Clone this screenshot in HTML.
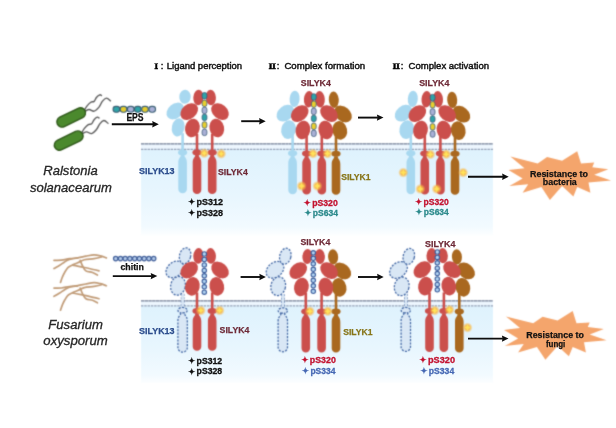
<!DOCTYPE html>
<html lang="en">
<head>
<meta charset="utf-8">
<title>SlLYK4 signalling model</title>
<style>
html,body{margin:0;padding:0;background:#fff;}
body{width:616px;height:428px;overflow:hidden;}
svg{display:block;font-family:"Liberation Sans","Noto Sans CJK SC",sans-serif;}
</style>
</head>
<body>
<svg width="616" height="428" viewBox="0 0 616 428">
<defs>
<linearGradient id="cyto" x1="0" y1="0" x2="0" y2="1">
<stop offset="0" stop-color="#def2fd"/>
<stop offset="0.55" stop-color="#e8f6fe"/>
<stop offset="0.9" stop-color="#f2faff"/>
<stop offset="1" stop-color="#fcfeff"/>
</linearGradient>
<radialGradient id="glow">
<stop offset="0" stop-color="#ffd650" stop-opacity="1"/>
<stop offset="0.5" stop-color="#f8b748" stop-opacity="0.9"/>
<stop offset="1" stop-color="#f8b748" stop-opacity="0"/>
</radialGradient>
<filter id="soft" x="0" y="0" width="616" height="428" filterUnits="userSpaceOnUse" color-interpolation-filters="sRGB"><feConvolveMatrix order="3" kernelMatrix="1 4 1 4 16 4 1 4 1" divisor="36" edgeMode="duplicate" preserveAlpha="false"/></filter>
<filter id="crisp" x="0" y="0" width="616" height="428" filterUnits="userSpaceOnUse"><feOffset dx="0" dy="0"/></filter>
</defs>
<rect width="616" height="428" fill="#fff"/>
<g filter="url(#soft)">

<rect x="141" y="143.4" width="352" height="6" fill="#edf6fe"/>
<rect x="141" y="148.8" width="352" height="86.5" fill="url(#cyto)"/>
<path d="M141 143.85H493" stroke="#747f95" stroke-width="1.3" stroke-dasharray="3.4 0.3" fill="none"/>
<path d="M141 149.30H493" stroke="#98a2b7" stroke-width="1.3" stroke-dasharray="2.4 0.9" fill="none"/>
<rect x="141" y="300.6" width="352" height="6" fill="#edf6fe"/>
<rect x="141" y="305.4" width="352" height="77.5" fill="url(#cyto)"/>
<path d="M141 300.95H493" stroke="#747f95" stroke-width="1.3" stroke-dasharray="3.4 0.3" fill="none"/>
<path d="M141 305.90H493" stroke="#98a2b7" stroke-width="1.3" stroke-dasharray="2.4 0.9" fill="none"/>
<rect x="181.3" y="133.2" width="2.6" height="20" fill="#a8d8f0"/>
<ellipse cx="178.2" cy="127.4" rx="6.3" ry="9.2" transform="rotate(12 178.2 127.4)" fill="#a8d8f0" />
<ellipse cx="175.3" cy="111.0" rx="9.8" ry="7.2" transform="rotate(-40 175.3 111.0)" fill="#a8d8f0" />
<ellipse cx="185.0" cy="96.8" rx="5.7" ry="7.0" transform="rotate(4 185.0 96.8)" fill="#a8d8f0" />
<ellipse cx="182.6" cy="152.4" rx="4.6" ry="3.0" transform="rotate(0 182.6 152.4)" fill="#a8d8f0" />
<path d="M180.8 154.8C180.8 158.0 178.3 157.8 178.3 162.8V188.9A4.3 4.3 0 0 0 186.9 188.9V162.8C186.9 157.8 184.4 158.0 184.4 154.8Z" fill="#a8d8f0" />
<rect x="195.7" y="134.0" width="2.6" height="20" fill="#cb4f4c"/>
<ellipse cx="192.4" cy="128.0" rx="7.3" ry="9.4" transform="rotate(12 192.4 128.0)" fill="#cb4f4c" />
<ellipse cx="189.2" cy="111.6" rx="9.8" ry="7.2" transform="rotate(-40 189.2 111.6)" fill="#cb4f4c" />
<ellipse cx="198.4" cy="97.5" rx="5.1" ry="7.8" transform="rotate(4 198.4 97.5)" fill="#cb4f4c" />
<ellipse cx="197.0" cy="152.4" rx="4.6" ry="3.0" transform="rotate(0 197.0 152.4)" fill="#cb4f4c" />
<path d="M195.2 154.8C195.2 158.0 192.7 157.8 192.7 162.8V189.7A4.3 4.3 0 0 0 201.3 189.7V162.8C201.3 157.8 198.8 158.0 198.8 154.8Z" fill="#cb4f4c" />
<rect x="210.9" y="134.0" width="2.6" height="20" fill="#cb4f4c"/>
<ellipse cx="216.8" cy="128.0" rx="7.3" ry="9.4" transform="rotate(-12 216.8 128.0)" fill="#cb4f4c" />
<ellipse cx="220.0" cy="111.6" rx="9.8" ry="7.2" transform="rotate(40 220.0 111.6)" fill="#cb4f4c" />
<ellipse cx="210.8" cy="97.5" rx="5.1" ry="7.8" transform="rotate(-4 210.8 97.5)" fill="#cb4f4c" />
<ellipse cx="212.2" cy="152.4" rx="4.6" ry="3.0" transform="rotate(0 212.2 152.4)" fill="#cb4f4c" />
<path d="M210.4 154.8C210.4 158.0 207.9 157.8 207.9 162.8V189.7A4.3 4.3 0 0 0 216.5 189.7V162.8C216.5 157.8 214.0 158.0 214.0 154.8Z" fill="#cb4f4c" />
<rect x="202.1" y="92.6" width="4.8" height="6.4" rx="2.1" fill="#2fa3a8" stroke="#3d5a78" stroke-width="0.8"/>
<rect x="202.1" y="100.1" width="4.8" height="6.4" rx="2.1" fill="#e8cf2e" stroke="#3d5a78" stroke-width="0.8"/>
<rect x="202.1" y="107.2" width="4.8" height="6.4" rx="2.1" fill="#a9b0d6" stroke="#3d5a78" stroke-width="0.8"/>
<rect x="202.1" y="114.2" width="4.8" height="6.4" rx="2.1" fill="#2fa3a8" stroke="#3d5a78" stroke-width="0.8"/>
<rect x="202.1" y="121.8" width="4.8" height="6.4" rx="2.1" fill="#e8cf2e" stroke="#3d5a78" stroke-width="0.8"/>
<rect x="202.1" y="129.2" width="4.8" height="6.4" rx="2.1" fill="#a9b0d6" stroke="#3d5a78" stroke-width="0.8"/>
<circle cx="204.2" cy="153.2" r="5.2" fill="url(#glow)"/><polygon points="204.2,150.2 205.1,152.3 207.2,153.2 205.1,154.1 204.2,156.2 203.3,154.1 201.2,153.2 203.3,152.3" fill="#ffe35a"/>
<circle cx="221.2" cy="153.8" r="5.2" fill="url(#glow)"/><polygon points="221.2,150.8 222.1,152.9 224.2,153.8 222.1,154.7 221.2,156.8 220.3,154.7 218.2,153.8 220.3,152.9" fill="#ffe35a"/>
<rect x="291.3" y="134.6" width="2.6" height="20" fill="#a8d8f0"/>
<ellipse cx="288.6" cy="129.6" rx="7.3" ry="9.4" transform="rotate(12 288.6 129.6)" fill="#a8d8f0" />
<ellipse cx="285.4" cy="113.2" rx="9.8" ry="7.2" transform="rotate(-40 285.4 113.2)" fill="#a8d8f0" />
<ellipse cx="294.6" cy="98.9" rx="5.0" ry="8.2" transform="rotate(4 294.6 98.9)" fill="#a8d8f0" />
<ellipse cx="292.6" cy="153.2" rx="4.6" ry="3.0" transform="rotate(0 292.6 153.2)" fill="#a8d8f0" />
<path d="M290.8 155.6C290.8 158.8 288.3 158.6 288.3 163.6V189.9A4.3 4.3 0 0 0 296.9 189.9V163.6C296.9 158.6 294.4 158.8 294.4 155.6Z" fill="#a8d8f0" />
<rect x="334.7" y="135.2" width="2.6" height="20" fill="#a9681f"/>
<ellipse cx="339.8" cy="130.4" rx="7.3" ry="9.4" transform="rotate(-12 339.8 130.4)" fill="#a9681f" />
<ellipse cx="343.0" cy="114.0" rx="9.8" ry="7.2" transform="rotate(40 343.0 114.0)" fill="#a9681f" />
<ellipse cx="333.8" cy="99.7" rx="5.0" ry="8.2" transform="rotate(-4 333.8 99.7)" fill="#a9681f" />
<ellipse cx="336.0" cy="153.8" rx="4.6" ry="3.0" transform="rotate(0 336.0 153.8)" fill="#a9681f" />
<path d="M334.2 156.2C334.2 159.4 331.7 159.2 331.7 164.2V190.5A4.3 4.3 0 0 0 340.3 190.5V164.2C340.3 159.2 337.8 159.4 337.8 156.2Z" fill="#a9681f" />
<rect x="305.3" y="135.0" width="2.6" height="20" fill="#cb4f4c"/>
<ellipse cx="302.9" cy="130.0" rx="7.3" ry="9.4" transform="rotate(12 302.9 130.0)" fill="#cb4f4c" />
<ellipse cx="299.7" cy="113.6" rx="9.8" ry="7.2" transform="rotate(-40 299.7 113.6)" fill="#cb4f4c" />
<ellipse cx="308.9" cy="99.3" rx="5.0" ry="8.2" transform="rotate(4 308.9 99.3)" fill="#cb4f4c" />
<ellipse cx="306.6" cy="153.6" rx="4.6" ry="3.0" transform="rotate(0 306.6 153.6)" fill="#cb4f4c" />
<path d="M304.8 156.0C304.8 159.2 302.3 159.0 302.3 164.0V190.3A4.3 4.3 0 0 0 310.9 190.3V164.0C310.9 159.0 308.4 159.2 308.4 156.0Z" fill="#cb4f4c" />
<rect x="320.5" y="135.0" width="2.6" height="20" fill="#cb4f4c"/>
<ellipse cx="325.8" cy="130.0" rx="7.3" ry="9.4" transform="rotate(-12 325.8 130.0)" fill="#cb4f4c" />
<ellipse cx="329.0" cy="113.6" rx="9.8" ry="7.2" transform="rotate(40 329.0 113.6)" fill="#cb4f4c" />
<ellipse cx="319.8" cy="99.3" rx="5.0" ry="8.2" transform="rotate(-4 319.8 99.3)" fill="#cb4f4c" />
<ellipse cx="321.8" cy="153.6" rx="4.6" ry="3.0" transform="rotate(0 321.8 153.6)" fill="#cb4f4c" />
<path d="M320.0 156.0C320.0 159.2 317.5 159.0 317.5 164.0V190.3A4.3 4.3 0 0 0 326.1 190.3V164.0C326.1 159.0 323.6 159.2 323.6 156.0Z" fill="#cb4f4c" />
<rect x="311.4" y="93.8" width="4.8" height="6.4" rx="2.1" fill="#2fa3a8" stroke="#3d5a78" stroke-width="0.8"/>
<rect x="311.4" y="101.0" width="4.8" height="6.4" rx="2.1" fill="#e8cf2e" stroke="#3d5a78" stroke-width="0.8"/>
<rect x="311.4" y="108.2" width="4.8" height="6.4" rx="2.1" fill="#a9b0d6" stroke="#3d5a78" stroke-width="0.8"/>
<rect x="311.4" y="115.3" width="4.8" height="6.4" rx="2.1" fill="#2fa3a8" stroke="#3d5a78" stroke-width="0.8"/>
<rect x="311.4" y="123.1" width="4.8" height="6.4" rx="2.1" fill="#e8cf2e" stroke="#3d5a78" stroke-width="0.8"/>
<rect x="311.4" y="130.1" width="4.8" height="6.4" rx="2.1" fill="#a9b0d6" stroke="#3d5a78" stroke-width="0.8"/>
<circle cx="313.0" cy="153.6" r="5.2" fill="url(#glow)"/><polygon points="313.0,150.2 314.0,152.6 316.4,153.6 314.0,154.6 313.0,157.0 312.0,154.6 309.6,153.6 312.0,152.6" fill="#ffe35a"/>
<circle cx="327.5" cy="153.6" r="5.2" fill="url(#glow)"/><polygon points="327.5,150.2 328.5,152.6 330.9,153.6 328.5,154.6 327.5,157.0 326.5,154.6 324.1,153.6 326.5,152.6" fill="#ffe35a"/>
<circle cx="301.6" cy="186.0" r="5.2" fill="url(#glow)"/><polygon points="301.6,182.6 302.6,185.0 305.0,186.0 302.6,187.0 301.6,189.4 300.6,187.0 298.2,186.0 300.6,185.0" fill="#ffe35a"/>
<circle cx="317.3" cy="186.0" r="5.2" fill="url(#glow)"/><polygon points="317.3,182.6 318.3,185.0 320.7,186.0 318.3,187.0 317.3,189.4 316.3,187.0 313.9,186.0 316.3,185.0" fill="#ffe35a"/>
<rect x="409.5" y="134.6" width="2.6" height="20" fill="#a8d8f0"/>
<ellipse cx="406.8" cy="129.6" rx="7.3" ry="9.4" transform="rotate(12 406.8 129.6)" fill="#a8d8f0" />
<ellipse cx="403.6" cy="113.2" rx="9.8" ry="7.2" transform="rotate(-40 403.6 113.2)" fill="#a8d8f0" />
<ellipse cx="412.8" cy="98.9" rx="5.0" ry="8.2" transform="rotate(4 412.8 98.9)" fill="#a8d8f0" />
<ellipse cx="410.8" cy="153.2" rx="4.6" ry="3.0" transform="rotate(0 410.8 153.2)" fill="#a8d8f0" />
<path d="M409.0 155.6C409.0 158.8 406.5 158.6 406.5 163.6V189.9A4.3 4.3 0 0 0 415.1 189.9V163.6C415.1 158.6 412.6 158.8 412.6 155.6Z" fill="#a8d8f0" />
<rect x="453.7" y="135.2" width="2.6" height="20" fill="#a9681f"/>
<ellipse cx="458.2" cy="130.6" rx="7.3" ry="9.4" transform="rotate(-12 458.2 130.6)" fill="#a9681f" />
<ellipse cx="461.4" cy="114.2" rx="9.8" ry="7.2" transform="rotate(40 461.4 114.2)" fill="#a9681f" />
<ellipse cx="452.2" cy="99.9" rx="5.0" ry="8.2" transform="rotate(-4 452.2 99.9)" fill="#a9681f" />
<ellipse cx="455.0" cy="153.8" rx="4.6" ry="3.0" transform="rotate(0 455.0 153.8)" fill="#a9681f" />
<path d="M453.2 156.2C453.2 159.4 450.7 159.2 450.7 164.2V190.5A4.3 4.3 0 0 0 459.3 190.5V164.2C459.3 159.2 456.8 159.4 456.8 156.2Z" fill="#a9681f" />
<rect x="423.5" y="135.0" width="2.6" height="20" fill="#cb4f4c"/>
<ellipse cx="420.5" cy="130.0" rx="7.3" ry="9.4" transform="rotate(12 420.5 130.0)" fill="#cb4f4c" />
<ellipse cx="417.3" cy="113.6" rx="9.8" ry="7.2" transform="rotate(-40 417.3 113.6)" fill="#cb4f4c" />
<ellipse cx="426.5" cy="99.3" rx="5.0" ry="8.2" transform="rotate(4 426.5 99.3)" fill="#cb4f4c" />
<ellipse cx="424.8" cy="153.6" rx="4.6" ry="3.0" transform="rotate(0 424.8 153.6)" fill="#cb4f4c" />
<path d="M423.0 156.0C423.0 159.2 420.5 159.0 420.5 164.0V190.3A4.3 4.3 0 0 0 429.1 190.3V164.0C429.1 159.0 426.6 159.2 426.6 156.0Z" fill="#cb4f4c" />
<rect x="439.1" y="135.0" width="2.6" height="20" fill="#cb4f4c"/>
<ellipse cx="444.0" cy="130.0" rx="7.3" ry="9.4" transform="rotate(-12 444.0 130.0)" fill="#cb4f4c" />
<ellipse cx="447.2" cy="113.6" rx="9.8" ry="7.2" transform="rotate(40 447.2 113.6)" fill="#cb4f4c" />
<ellipse cx="438.0" cy="99.3" rx="5.0" ry="8.2" transform="rotate(-4 438.0 99.3)" fill="#cb4f4c" />
<ellipse cx="440.4" cy="153.6" rx="4.6" ry="3.0" transform="rotate(0 440.4 153.6)" fill="#cb4f4c" />
<path d="M438.6 156.0C438.6 159.2 436.1 159.0 436.1 164.0V190.3A4.3 4.3 0 0 0 444.7 190.3V164.0C444.7 159.0 442.2 159.2 442.2 156.0Z" fill="#cb4f4c" />
<rect x="430.2" y="94.4" width="4.8" height="6.4" rx="2.1" fill="#2fa3a8" stroke="#3d5a78" stroke-width="0.8"/>
<rect x="430.2" y="101.6" width="4.8" height="6.4" rx="2.1" fill="#e8cf2e" stroke="#3d5a78" stroke-width="0.8"/>
<rect x="430.2" y="108.8" width="4.8" height="6.4" rx="2.1" fill="#a9b0d6" stroke="#3d5a78" stroke-width="0.8"/>
<rect x="430.2" y="115.9" width="4.8" height="6.4" rx="2.1" fill="#2fa3a8" stroke="#3d5a78" stroke-width="0.8"/>
<rect x="430.2" y="123.7" width="4.8" height="6.4" rx="2.1" fill="#e8cf2e" stroke="#3d5a78" stroke-width="0.8"/>
<rect x="430.2" y="130.8" width="4.8" height="6.4" rx="2.1" fill="#a9b0d6" stroke="#3d5a78" stroke-width="0.8"/>
<circle cx="430.4" cy="154.4" r="5.2" fill="url(#glow)"/><polygon points="430.4,151.0 431.4,153.4 433.8,154.4 431.4,155.4 430.4,157.8 429.4,155.4 427.0,154.4 429.4,153.4" fill="#ffe35a"/>
<circle cx="446.2" cy="154.2" r="5.2" fill="url(#glow)"/><polygon points="446.2,150.8 447.2,153.2 449.6,154.2 447.2,155.2 446.2,157.6 445.2,155.2 442.8,154.2 445.2,153.2" fill="#ffe35a"/>
<circle cx="403.3" cy="172.6" r="5.2" fill="url(#glow)"/><polygon points="403.3,169.2 404.3,171.6 406.7,172.6 404.3,173.6 403.3,176.0 402.3,173.6 399.9,172.6 402.3,171.6" fill="#ffe35a"/>
<circle cx="463.2" cy="172.6" r="5.2" fill="url(#glow)"/><polygon points="463.2,169.2 464.2,171.6 466.6,172.6 464.2,173.6 463.2,176.0 462.2,173.6 459.8,172.6 462.2,171.6" fill="#ffe35a"/>
<circle cx="420.3" cy="189.0" r="5.2" fill="url(#glow)"/><polygon points="420.3,185.6 421.3,188.0 423.7,189.0 421.3,190.0 420.3,192.4 419.3,190.0 416.9,189.0 419.3,188.0" fill="#ffe35a"/>
<circle cx="436.7" cy="189.0" r="5.2" fill="url(#glow)"/><polygon points="436.7,185.6 437.7,188.0 440.1,189.0 437.7,190.0 436.7,192.4 435.7,190.0 433.3,189.0 435.7,188.0" fill="#ffe35a"/>
<rect x="113.1" y="106.4" width="6.6" height="5.8" rx="2.6" fill="#2fa3a8" stroke="#3c6074" stroke-width="1.1"/>
<rect x="120.2" y="106.4" width="6.6" height="5.8" rx="2.6" fill="#e3cb2c" stroke="#3c6074" stroke-width="1.1"/>
<rect x="127.4" y="106.4" width="6.6" height="5.8" rx="2.6" fill="#a9b0d6" stroke="#3c6074" stroke-width="1.1"/>
<rect x="134.5" y="106.4" width="6.6" height="5.8" rx="2.6" fill="#2fa3a8" stroke="#3c6074" stroke-width="1.1"/>
<rect x="141.7" y="106.4" width="6.6" height="5.8" rx="2.6" fill="#e3cb2c" stroke="#3c6074" stroke-width="1.1"/>
<rect x="148.9" y="106.4" width="6.6" height="5.8" rx="2.6" fill="#a9b0d6" stroke="#3c6074" stroke-width="1.1"/>
<g><path d="M84.3 110.4C84.7 109.7 85.6 107.7 86.7 106.3C87.8 104.9 89.6 103.0 90.8 102.2C92.0 101.4 93.1 102.2 94.1 101.4C95.1 100.6 95.6 98.4 96.6 97.3C97.5 96.2 99.0 95.1 99.8 94.8C100.6 94.5 101.2 95.5 101.5 95.6" fill="none" stroke="#5a5a5a" stroke-width="1.35" stroke-linecap="round"/><path d="M85.1 111.2C85.8 110.9 87.7 109.5 89.2 109.5C90.7 109.5 92.5 111.6 94.1 111.2C95.7 110.8 97.6 108.7 99.0 107.1C100.4 105.5 101.1 102.9 102.3 101.4C103.5 99.9 105.0 98.2 106.4 98.1C107.8 98.0 109.8 100.4 110.5 100.9" fill="none" stroke="#5a5a5a" stroke-width="1.35" stroke-linecap="round"/><rect x="55.8" y="112.2" width="30.8" height="10.4" rx="5.2" transform="rotate(-26 71.2 117.4)" fill="#4b892d" stroke="#30591b" stroke-width="1.4"/></g>
<g><path d="M81.8 132.8C82.2 132.1 83.1 130.1 84.2 128.7C85.3 127.3 87.1 125.4 88.3 124.6C89.5 123.8 90.6 124.6 91.6 123.8C92.6 123.0 93.1 120.8 94.1 119.7C95.0 118.6 96.5 117.5 97.3 117.2C98.1 116.9 98.7 117.9 99.0 118.0" fill="none" stroke="#5a5a5a" stroke-width="1.35" stroke-linecap="round"/><path d="M82.6 133.6C83.3 133.3 85.2 131.9 86.7 131.9C88.2 131.9 90.0 134.0 91.6 133.6C93.2 133.2 95.1 131.1 96.5 129.5C97.9 127.9 98.6 125.3 99.8 123.8C101.0 122.3 102.5 120.6 103.9 120.5C105.3 120.4 107.3 122.8 108.0 123.3" fill="none" stroke="#5a5a5a" stroke-width="1.35" stroke-linecap="round"/><rect x="53.3" y="135.4" width="30.8" height="10.4" rx="5.2" transform="rotate(-26 68.7 140.6)" fill="#4b892d" stroke="#30591b" stroke-width="1.4"/></g>
<polygon points="510.4,156.6 537.7,163.5 547.1,156.9 562.1,160.7 577.2,151.3 581.0,163.5 594.2,162.6 592.3,167.3 608.3,169.2 594.2,174.8 611.1,180.5 588.5,182.4 590.4,192.7 577.2,187.1 573.4,196.5 562.1,186.1 549.9,199.9 541.4,187.1 522.6,192.7 528.2,184.3 509.4,186.1 522.6,178.6 508.5,170.1 524.5,168.2" fill="#f4a56c"/>
<path d="M181.3 293.8V308.8M183.9 293.8V308.8" fill="none" stroke="#4468a4" stroke-width="1.0" stroke-dasharray="2.1 1.3"/>
<rect x="181.3" y="293.8" width="2.6" height="15" fill="#d9e7f5"/>
<ellipse cx="178.0" cy="285.8" rx="7.3" ry="9.4" transform="rotate(12 178.0 285.8)" fill="#d9e7f5" stroke="#4468a4" stroke-width="1.25" stroke-dasharray="2.1 1.3"/>
<ellipse cx="174.8" cy="269.4" rx="9.8" ry="7.2" transform="rotate(-40 174.8 269.4)" fill="#d9e7f5" stroke="#4468a4" stroke-width="1.25" stroke-dasharray="2.1 1.3"/>
<ellipse cx="185.1" cy="255.8" rx="5.6" ry="8.1" transform="rotate(14 185.1 255.8)" fill="#d9e7f5" stroke="#4468a4" stroke-width="1.25" stroke-dasharray="2.1 1.3"/>
<ellipse cx="182.6" cy="310.4" rx="4.6" ry="3.0" transform="rotate(0 182.6 310.4)" fill="#d9e7f5" stroke="#4468a4" stroke-width="1.25" stroke-dasharray="2.1 1.3"/>
<path d="M180.8 312.8C180.8 316.0 177.9 315.8 177.9 320.8V347.5A4.7 4.7 0 0 0 187.3 347.5V320.8C187.3 315.8 184.4 316.0 184.4 312.8Z" fill="#d9e7f5" stroke="#4468a4" stroke-width="1.25" stroke-dasharray="2.1 1.3"/>
<rect x="195.7" y="292.4" width="2.6" height="20" fill="#cb4f4c"/>
<ellipse cx="192.4" cy="286.4" rx="7.3" ry="9.4" transform="rotate(12 192.4 286.4)" fill="#cb4f4c" />
<ellipse cx="189.2" cy="270.0" rx="9.8" ry="7.2" transform="rotate(-40 189.2 270.0)" fill="#cb4f4c" />
<ellipse cx="198.4" cy="255.9" rx="5.1" ry="7.8" transform="rotate(4 198.4 255.9)" fill="#cb4f4c" />
<ellipse cx="197.0" cy="311.0" rx="4.6" ry="3.0" transform="rotate(0 197.0 311.0)" fill="#cb4f4c" />
<path d="M195.2 313.4C195.2 316.6 192.7 316.4 192.7 321.4V346.5A4.3 4.3 0 0 0 201.3 346.5V321.4C201.3 316.4 198.8 316.6 198.8 313.4Z" fill="#cb4f4c" />
<rect x="210.9" y="292.4" width="2.6" height="20" fill="#cb4f4c"/>
<ellipse cx="216.8" cy="286.4" rx="7.3" ry="9.4" transform="rotate(-12 216.8 286.4)" fill="#cb4f4c" />
<ellipse cx="220.0" cy="270.0" rx="9.8" ry="7.2" transform="rotate(40 220.0 270.0)" fill="#cb4f4c" />
<ellipse cx="210.8" cy="255.9" rx="5.1" ry="7.8" transform="rotate(-4 210.8 255.9)" fill="#cb4f4c" />
<ellipse cx="212.2" cy="311.0" rx="4.6" ry="3.0" transform="rotate(0 212.2 311.0)" fill="#cb4f4c" />
<path d="M210.4 313.4C210.4 316.6 207.9 316.4 207.9 321.4V346.5A4.3 4.3 0 0 0 216.5 346.5V321.4C216.5 316.4 214.0 316.6 214.0 313.4Z" fill="#cb4f4c" />
<circle cx="204.3" cy="254.0" r="2.2" fill="#b3d5f2" stroke="#3b5c9b" stroke-width="1.1"/>
<circle cx="204.3" cy="259.5" r="2.2" fill="#b3d5f2" stroke="#3b5c9b" stroke-width="1.1"/>
<circle cx="204.3" cy="264.9" r="2.2" fill="#b3d5f2" stroke="#3b5c9b" stroke-width="1.1"/>
<circle cx="204.3" cy="270.4" r="2.2" fill="#b3d5f2" stroke="#3b5c9b" stroke-width="1.1"/>
<circle cx="204.3" cy="275.8" r="2.2" fill="#b3d5f2" stroke="#3b5c9b" stroke-width="1.1"/>
<circle cx="204.3" cy="281.3" r="2.2" fill="#b3d5f2" stroke="#3b5c9b" stroke-width="1.1"/>
<circle cx="204.3" cy="286.8" r="2.2" fill="#b3d5f2" stroke="#3b5c9b" stroke-width="1.1"/>
<circle cx="204.3" cy="292.2" r="2.2" fill="#b3d5f2" stroke="#3b5c9b" stroke-width="1.1"/>
<circle cx="200.8" cy="310.5" r="5.2" fill="url(#glow)"/><polygon points="200.8,307.5 201.7,309.6 203.8,310.5 201.7,311.4 200.8,313.5 199.9,311.4 197.8,310.5 199.9,309.6" fill="#ffe35a"/>
<circle cx="219.6" cy="310.5" r="5.2" fill="url(#glow)"/><polygon points="219.6,307.5 220.5,309.6 222.6,310.5 220.5,311.4 219.6,313.5 218.7,311.4 216.6,310.5 218.7,309.6" fill="#ffe35a"/>
<path d="M281.5 294.2V309.2M284.1 294.2V309.2" fill="none" stroke="#4468a4" stroke-width="1.0" stroke-dasharray="2.1 1.3"/>
<rect x="281.5" y="294.2" width="2.6" height="15" fill="#d9e7f5"/>
<ellipse cx="278.2" cy="286.2" rx="7.3" ry="9.4" transform="rotate(12 278.2 286.2)" fill="#d9e7f5" stroke="#4468a4" stroke-width="1.25" stroke-dasharray="2.1 1.3"/>
<ellipse cx="275.0" cy="269.8" rx="9.8" ry="7.2" transform="rotate(-40 275.0 269.8)" fill="#d9e7f5" stroke="#4468a4" stroke-width="1.25" stroke-dasharray="2.1 1.3"/>
<ellipse cx="285.3" cy="256.2" rx="5.6" ry="8.1" transform="rotate(14 285.3 256.2)" fill="#d9e7f5" stroke="#4468a4" stroke-width="1.25" stroke-dasharray="2.1 1.3"/>
<ellipse cx="282.8" cy="310.8" rx="4.6" ry="3.0" transform="rotate(0 282.8 310.8)" fill="#d9e7f5" stroke="#4468a4" stroke-width="1.25" stroke-dasharray="2.1 1.3"/>
<path d="M281.0 313.2C281.0 316.4 278.1 316.2 278.1 321.2V347.1A4.7 4.7 0 0 0 287.5 347.1V321.2C287.5 316.2 284.6 316.4 284.6 313.2Z" fill="#d9e7f5" stroke="#4468a4" stroke-width="1.25" stroke-dasharray="2.1 1.3"/>
<rect x="334.7" y="293.0" width="2.6" height="20" fill="#a9681f"/>
<ellipse cx="339.1" cy="287.4" rx="7.3" ry="9.4" transform="rotate(-12 339.1 287.4)" fill="#a9681f" />
<ellipse cx="342.3" cy="271.0" rx="9.8" ry="7.2" transform="rotate(40 342.3 271.0)" fill="#a9681f" />
<ellipse cx="333.1" cy="256.9" rx="5.0" ry="7.6" transform="rotate(-4 333.1 256.9)" fill="#a9681f" />
<ellipse cx="336.0" cy="311.6" rx="4.6" ry="3.0" transform="rotate(0 336.0 311.6)" fill="#a9681f" />
<path d="M334.2 314.0C334.2 317.2 331.7 317.0 331.7 322.0V348.3A4.3 4.3 0 0 0 340.3 348.3V322.0C340.3 317.0 337.8 317.2 337.8 314.0Z" fill="#a9681f" />
<rect x="304.5" y="292.8" width="2.6" height="20" fill="#cb4f4c"/>
<ellipse cx="301.4" cy="287.0" rx="7.3" ry="9.4" transform="rotate(12 301.4 287.0)" fill="#cb4f4c" />
<ellipse cx="298.2" cy="270.6" rx="9.8" ry="7.2" transform="rotate(-40 298.2 270.6)" fill="#cb4f4c" />
<ellipse cx="307.4" cy="256.5" rx="5.0" ry="7.4" transform="rotate(4 307.4 256.5)" fill="#cb4f4c" />
<ellipse cx="305.8" cy="311.4" rx="4.6" ry="3.0" transform="rotate(0 305.8 311.4)" fill="#cb4f4c" />
<path d="M304.0 313.8C304.0 317.0 301.5 316.8 301.5 321.8V348.1A4.3 4.3 0 0 0 310.1 348.1V321.8C310.1 316.8 307.6 317.0 307.6 313.8Z" fill="#cb4f4c" />
<rect x="320.3" y="292.8" width="2.6" height="20" fill="#cb4f4c"/>
<ellipse cx="325.9" cy="287.0" rx="7.3" ry="9.4" transform="rotate(-12 325.9 287.0)" fill="#cb4f4c" />
<ellipse cx="329.1" cy="270.6" rx="9.8" ry="7.2" transform="rotate(40 329.1 270.6)" fill="#cb4f4c" />
<ellipse cx="319.9" cy="256.5" rx="5.0" ry="7.4" transform="rotate(-4 319.9 256.5)" fill="#cb4f4c" />
<ellipse cx="321.6" cy="311.4" rx="4.6" ry="3.0" transform="rotate(0 321.6 311.4)" fill="#cb4f4c" />
<path d="M319.8 313.8C319.8 317.0 317.3 316.8 317.3 321.8V348.1A4.3 4.3 0 0 0 325.9 348.1V321.8C325.9 316.8 323.4 317.0 323.4 313.8Z" fill="#cb4f4c" />
<circle cx="313.3" cy="252.8" r="2.2" fill="#b3d5f2" stroke="#3b5c9b" stroke-width="1.1"/>
<circle cx="313.3" cy="258.3" r="2.2" fill="#b3d5f2" stroke="#3b5c9b" stroke-width="1.1"/>
<circle cx="313.3" cy="263.8" r="2.2" fill="#b3d5f2" stroke="#3b5c9b" stroke-width="1.1"/>
<circle cx="313.3" cy="269.3" r="2.2" fill="#b3d5f2" stroke="#3b5c9b" stroke-width="1.1"/>
<circle cx="313.3" cy="274.8" r="2.2" fill="#b3d5f2" stroke="#3b5c9b" stroke-width="1.1"/>
<circle cx="313.3" cy="280.3" r="2.2" fill="#b3d5f2" stroke="#3b5c9b" stroke-width="1.1"/>
<circle cx="313.3" cy="285.8" r="2.2" fill="#b3d5f2" stroke="#3b5c9b" stroke-width="1.1"/>
<circle cx="313.3" cy="291.3" r="2.2" fill="#b3d5f2" stroke="#3b5c9b" stroke-width="1.1"/>
<circle cx="309.8" cy="311.3" r="5.2" fill="url(#glow)"/><polygon points="309.8,307.9 310.8,310.3 313.2,311.3 310.8,312.3 309.8,314.7 308.8,312.3 306.4,311.3 308.8,310.3" fill="#ffe35a"/>
<circle cx="327.8" cy="311.3" r="5.2" fill="url(#glow)"/><polygon points="327.8,307.9 328.8,310.3 331.2,311.3 328.8,312.3 327.8,314.7 326.8,312.3 324.4,311.3 326.8,310.3" fill="#ffe35a"/>
<path d="M404.5 293.8V308.8M407.1 293.8V308.8" fill="none" stroke="#4468a4" stroke-width="1.0" stroke-dasharray="2.1 1.3"/>
<rect x="404.5" y="293.8" width="2.6" height="15" fill="#d9e7f5"/>
<ellipse cx="401.7" cy="286.4" rx="7.3" ry="9.4" transform="rotate(12 401.7 286.4)" fill="#d9e7f5" stroke="#4468a4" stroke-width="1.25" stroke-dasharray="2.1 1.3"/>
<ellipse cx="398.5" cy="270.0" rx="9.8" ry="7.2" transform="rotate(-40 398.5 270.0)" fill="#d9e7f5" stroke="#4468a4" stroke-width="1.25" stroke-dasharray="2.1 1.3"/>
<ellipse cx="408.8" cy="256.4" rx="5.6" ry="8.1" transform="rotate(14 408.8 256.4)" fill="#d9e7f5" stroke="#4468a4" stroke-width="1.25" stroke-dasharray="2.1 1.3"/>
<ellipse cx="405.8" cy="310.4" rx="4.6" ry="3.0" transform="rotate(0 405.8 310.4)" fill="#d9e7f5" stroke="#4468a4" stroke-width="1.25" stroke-dasharray="2.1 1.3"/>
<path d="M404.0 312.8C404.0 316.0 401.1 315.8 401.1 320.8V346.7A4.7 4.7 0 0 0 410.5 346.7V320.8C410.5 315.8 407.6 316.0 407.6 312.8Z" fill="#d9e7f5" stroke="#4468a4" stroke-width="1.25" stroke-dasharray="2.1 1.3"/>
<rect x="458.0" y="293.0" width="2.6" height="20" fill="#a9681f"/>
<ellipse cx="462.9" cy="287.3" rx="7.3" ry="9.4" transform="rotate(-12 462.9 287.3)" fill="#a9681f" />
<ellipse cx="466.1" cy="270.9" rx="9.8" ry="7.2" transform="rotate(40 466.1 270.9)" fill="#a9681f" />
<ellipse cx="456.9" cy="256.8" rx="5.0" ry="7.6" transform="rotate(-4 456.9 256.8)" fill="#a9681f" />
<ellipse cx="459.3" cy="311.6" rx="4.6" ry="3.0" transform="rotate(0 459.3 311.6)" fill="#a9681f" />
<path d="M457.5 314.0C457.5 317.2 455.0 317.0 455.0 322.0V348.3A4.3 4.3 0 0 0 463.6 348.3V322.0C463.6 317.0 461.1 317.2 461.1 314.0Z" fill="#a9681f" />
<rect x="428.2" y="292.4" width="2.6" height="20" fill="#cb4f4c"/>
<ellipse cx="425.5" cy="286.1" rx="7.3" ry="9.4" transform="rotate(12 425.5 286.1)" fill="#cb4f4c" />
<ellipse cx="422.3" cy="269.7" rx="9.8" ry="7.2" transform="rotate(-40 422.3 269.7)" fill="#cb4f4c" />
<ellipse cx="431.5" cy="255.6" rx="5.0" ry="7.6" transform="rotate(4 431.5 255.6)" fill="#cb4f4c" />
<ellipse cx="429.5" cy="311.0" rx="4.6" ry="3.0" transform="rotate(0 429.5 311.0)" fill="#cb4f4c" />
<path d="M427.7 313.4C427.7 316.6 425.2 316.4 425.2 321.4V347.7A4.3 4.3 0 0 0 433.8 347.7V321.4C433.8 316.4 431.3 316.6 431.3 313.4Z" fill="#cb4f4c" />
<rect x="442.6" y="292.4" width="2.6" height="20" fill="#cb4f4c"/>
<ellipse cx="448.8" cy="286.1" rx="7.3" ry="9.4" transform="rotate(-12 448.8 286.1)" fill="#cb4f4c" />
<ellipse cx="452.0" cy="269.7" rx="9.8" ry="7.2" transform="rotate(40 452.0 269.7)" fill="#cb4f4c" />
<ellipse cx="442.8" cy="255.6" rx="5.0" ry="7.6" transform="rotate(-4 442.8 255.6)" fill="#cb4f4c" />
<ellipse cx="443.9" cy="311.0" rx="4.6" ry="3.0" transform="rotate(0 443.9 311.0)" fill="#cb4f4c" />
<path d="M442.1 313.4C442.1 316.6 439.6 316.4 439.6 321.4V347.7A4.3 4.3 0 0 0 448.2 347.7V321.4C448.2 316.4 445.7 316.6 445.7 313.4Z" fill="#cb4f4c" />
<circle cx="437.3" cy="252.0" r="2.2" fill="#b3d5f2" stroke="#3b5c9b" stroke-width="1.1"/>
<circle cx="437.3" cy="257.4" r="2.2" fill="#b3d5f2" stroke="#3b5c9b" stroke-width="1.1"/>
<circle cx="437.3" cy="262.8" r="2.2" fill="#b3d5f2" stroke="#3b5c9b" stroke-width="1.1"/>
<circle cx="437.3" cy="268.2" r="2.2" fill="#b3d5f2" stroke="#3b5c9b" stroke-width="1.1"/>
<circle cx="437.3" cy="273.6" r="2.2" fill="#b3d5f2" stroke="#3b5c9b" stroke-width="1.1"/>
<circle cx="437.3" cy="279.0" r="2.2" fill="#b3d5f2" stroke="#3b5c9b" stroke-width="1.1"/>
<circle cx="437.3" cy="284.4" r="2.2" fill="#b3d5f2" stroke="#3b5c9b" stroke-width="1.1"/>
<circle cx="437.3" cy="289.8" r="2.2" fill="#b3d5f2" stroke="#3b5c9b" stroke-width="1.1"/>
<circle cx="434.7" cy="310.5" r="5.2" fill="url(#glow)"/><polygon points="434.7,307.1 435.7,309.5 438.1,310.5 435.7,311.5 434.7,313.9 433.7,311.5 431.3,310.5 433.7,309.5" fill="#ffe35a"/>
<circle cx="449.5" cy="309.8" r="5.2" fill="url(#glow)"/><polygon points="449.5,306.4 450.5,308.8 452.9,309.8 450.5,310.8 449.5,313.2 448.5,310.8 446.1,309.8 448.5,308.8" fill="#ffe35a"/>
<circle cx="467.5" cy="327.6" r="5.2" fill="url(#glow)"/><polygon points="467.5,324.2 468.5,326.6 470.9,327.6 468.5,328.6 467.5,331.0 466.5,328.6 464.1,327.6 466.5,326.6" fill="#ffe35a"/>
<circle cx="115.7" cy="258.6" r="2.2" fill="#b4cbea" stroke="#42609a" stroke-width="1.2"/>
<circle cx="120.5" cy="258.6" r="2.2" fill="#b4cbea" stroke="#42609a" stroke-width="1.2"/>
<circle cx="125.2" cy="258.6" r="2.2" fill="#b4cbea" stroke="#42609a" stroke-width="1.2"/>
<circle cx="129.9" cy="258.6" r="2.2" fill="#b4cbea" stroke="#42609a" stroke-width="1.2"/>
<circle cx="134.7" cy="258.6" r="2.2" fill="#b4cbea" stroke="#42609a" stroke-width="1.2"/>
<circle cx="139.4" cy="258.6" r="2.2" fill="#b4cbea" stroke="#42609a" stroke-width="1.2"/>
<circle cx="144.2" cy="258.6" r="2.2" fill="#b4cbea" stroke="#42609a" stroke-width="1.2"/>
<circle cx="148.9" cy="258.6" r="2.2" fill="#b4cbea" stroke="#42609a" stroke-width="1.2"/>
<circle cx="153.7" cy="258.6" r="2.2" fill="#b4cbea" stroke="#42609a" stroke-width="1.2"/>
<g fill="none" stroke="#c19c78" stroke-width="1.7" stroke-linecap="round"><path d="M54.0 260.3C55.2 260.3 58.8 260.5 61.4 260.2C64.0 259.9 66.8 259.1 69.5 258.7C72.2 258.3 75.0 258.2 77.7 257.8C80.4 257.4 83.2 256.7 85.9 256.2C88.6 255.7 91.6 254.9 94.1 254.9C96.5 254.9 98.5 255.4 100.6 255.9C102.6 256.4 105.4 257.6 106.4 257.9"/><path d="M54.0 268.5C55.0 267.9 57.9 266.3 59.7 265.2C61.5 264.1 63.0 262.8 64.6 261.9C66.2 260.9 67.3 260.1 69.5 259.5C71.7 258.9 76.3 258.2 77.7 258.0"/><path d="M60.5 282.4C60.8 281.6 61.5 279.1 62.2 277.5C62.9 275.9 63.6 274.1 64.6 272.5C65.5 270.9 66.7 268.8 67.9 267.6C69.1 266.4 70.4 266.0 72.0 265.2C73.6 264.4 75.7 263.6 77.7 262.7C79.8 261.8 81.6 260.5 84.3 259.8C87.0 259.1 91.2 259.1 94.1 258.6C97.0 258.1 100.3 257.3 101.5 257.0"/><path d="M80.2 260.3C80.6 261.2 81.6 264.2 82.6 266.0C83.5 267.8 84.2 269.8 85.9 270.9C87.6 272.0 90.6 271.8 92.5 272.5C94.4 273.2 96.6 274.6 97.4 275.0"/><path d="M72.8 265.2C74.2 265.5 78.3 266.2 81.0 266.8C83.7 267.4 86.2 267.8 89.2 268.5C92.2 269.2 97.4 270.5 99.0 270.9"/></g>
<g fill="none" stroke="#c19c78" stroke-width="1.7" stroke-linecap="round"><path d="M54.0 288.1C55.2 288.1 58.8 288.3 61.4 288.0C64.0 287.7 66.8 286.9 69.5 286.5C72.2 286.1 75.0 286.0 77.7 285.6C80.4 285.2 83.2 284.5 85.9 284.0C88.6 283.5 91.6 282.8 94.1 282.7C96.5 282.6 98.5 283.2 100.6 283.7C102.6 284.2 105.4 285.4 106.4 285.7"/><path d="M54.0 296.3C55.0 295.8 57.9 294.1 59.7 293.0C61.5 291.9 63.0 290.6 64.6 289.7C66.2 288.8 67.3 287.9 69.5 287.3C71.7 286.7 76.3 286.1 77.7 285.8"/><path d="M60.5 310.2C60.8 309.4 61.5 306.9 62.2 305.3C62.9 303.7 63.6 301.9 64.6 300.3C65.5 298.7 66.7 296.6 67.9 295.4C69.1 294.2 70.4 293.8 72.0 293.0C73.6 292.2 75.7 291.4 77.7 290.5C79.8 289.6 81.6 288.3 84.3 287.6C87.0 286.9 91.2 286.9 94.1 286.4C97.0 285.9 100.3 285.1 101.5 284.8"/><path d="M80.2 288.1C80.6 289.1 81.6 292.0 82.6 293.8C83.5 295.6 84.2 297.6 85.9 298.7C87.6 299.8 90.6 299.6 92.5 300.3C94.4 301.0 96.6 302.4 97.4 302.8"/><path d="M72.8 293.0C74.2 293.3 78.3 294.1 81.0 294.6C83.7 295.2 86.2 295.6 89.2 296.3C92.2 297.0 97.4 298.3 99.0 298.7"/></g>
<polygon points="505.9,316.4 533.2,323.3 542.6,316.7 557.6,320.5 572.7,311.1 576.5,323.3 589.7,322.4 587.8,327.1 603.8,329.0 589.7,334.6 606.6,340.3 584.0,342.2 585.9,352.5 572.7,346.9 568.9,356.3 557.6,345.9 545.4,359.7 536.9,346.9 518.1,352.5 523.7,344.1 504.9,345.9 518.1,338.4 504.0,329.9 520.0,328.0" fill="#f4a56c"/>
</g>
<g filter="url(#crisp)">
<text font-size="9.5" fill="#111" stroke="#111" stroke-width="0.45"><tspan x="154.3" y="68.5" font-size="7.7" font-weight="bold" fill="#000" stroke="#000" stroke-width="0.35" font-family='"DejaVu Serif","Noto Serif CJK SC",serif' textLength="4.0" lengthAdjust="spacingAndGlyphs">Ⅰ</tspan><tspan x="160.8" y="68.7">: </tspan><tspan x="166.8" y="68.7" textLength="75.3" lengthAdjust="spacingAndGlyphs">Ligand perception</tspan></text>
<text font-size="9.5" fill="#111" stroke="#111" stroke-width="0.45"><tspan x="268.6" y="68.5" font-size="7.7" font-weight="bold" fill="#000" stroke="#000" stroke-width="0.35" font-family='"DejaVu Serif","Noto Serif CJK SC",serif' textLength="7.6" lengthAdjust="spacingAndGlyphs">Ⅱ</tspan><tspan x="276.7" y="68.7">: </tspan><tspan x="284.4" y="68.7" textLength="80.8" lengthAdjust="spacingAndGlyphs">Complex formation</tspan></text>
<text font-size="9.5" fill="#111" stroke="#111" stroke-width="0.45"><tspan x="392.6" y="68.5" font-size="7.7" font-weight="bold" fill="#000" stroke="#000" stroke-width="0.35" font-family='"DejaVu Serif","Noto Serif CJK SC",serif' textLength="7.6" lengthAdjust="spacingAndGlyphs">Ⅱ</tspan><tspan x="400.7" y="68.7">: </tspan><tspan x="408.6" y="68.7" textLength="80.4" lengthAdjust="spacingAndGlyphs">Complex activation</tspan></text>
<text x="139.0" y="173.5" font-size="9.3" font-weight="bold" fill="#2b4c8c" stroke="#2b4c8c" stroke-width="0.25" textLength="35.6" lengthAdjust="spacingAndGlyphs">SILYK13</text>
<text x="218.0" y="175.1" font-size="9.3" font-weight="bold" fill="#6e2a37" stroke="#6e2a37" stroke-width="0.25" textLength="29.8" lengthAdjust="spacingAndGlyphs">SILYK4</text>
<text x="300.8" y="86.0" font-size="9.3" font-weight="bold" fill="#6e2a37" stroke="#6e2a37" stroke-width="0.25" textLength="30.0" lengthAdjust="spacingAndGlyphs">SILYK4</text>
<text x="419.2" y="85.8" font-size="9.3" font-weight="bold" fill="#6e2a37" stroke="#6e2a37" stroke-width="0.25" textLength="30.2" lengthAdjust="spacingAndGlyphs">SILYK4</text>
<text x="341.2" y="179.5" font-size="9.3" font-weight="bold" fill="#877518" stroke="#877518" stroke-width="0.25" textLength="29.4" lengthAdjust="spacingAndGlyphs">SILYK1</text>
<text font-size="9.1" font-weight="bold" fill="#111" stroke="#111" stroke-width="0.3"><tspan x="187.7" y="205.4" font-size="9.4" stroke-width="0.2" font-family='"DejaVu Sans",sans-serif'>✦</tspan> <tspan x="196.6" y="205.2" textLength="26.4" lengthAdjust="spacingAndGlyphs">pS312</tspan></text>
<text font-size="9.1" font-weight="bold" fill="#111" stroke="#111" stroke-width="0.3"><tspan x="187.7" y="216.2" font-size="9.4" stroke-width="0.2" font-family='"DejaVu Sans",sans-serif'>✦</tspan> <tspan x="196.6" y="216.0" textLength="26.4" lengthAdjust="spacingAndGlyphs">pS328</tspan></text>
<text font-size="9.1" font-weight="bold" fill="#c3122f" stroke="#c3122f" stroke-width="0.3"><tspan x="303.3" y="205.8" font-size="9.4" stroke-width="0.2" font-family='"DejaVu Sans",sans-serif'>✦</tspan> <tspan x="312.2" y="205.6" textLength="25.6" lengthAdjust="spacingAndGlyphs">pS320</tspan></text>
<text font-size="9.1" font-weight="bold" fill="#2c8a8c" stroke="#2c8a8c" stroke-width="0.3"><tspan x="303.9" y="215.8" font-size="9.4" stroke-width="0.2" font-family='"DejaVu Sans",sans-serif'>✦</tspan> <tspan x="312.8" y="215.6" textLength="25.2" lengthAdjust="spacingAndGlyphs">pS634</tspan></text>
<text font-size="9.1" font-weight="bold" fill="#c3122f" stroke="#c3122f" stroke-width="0.3"><tspan x="414.7" y="205.0" font-size="9.4" stroke-width="0.2" font-family='"DejaVu Sans",sans-serif'>✦</tspan> <tspan x="423.6" y="204.8" textLength="25.2" lengthAdjust="spacingAndGlyphs">pS320</tspan></text>
<text font-size="9.1" font-weight="bold" fill="#2c8a8c" stroke="#2c8a8c" stroke-width="0.3"><tspan x="414.9" y="215.0" font-size="9.4" stroke-width="0.2" font-family='"DejaVu Sans",sans-serif'>✦</tspan> <tspan x="423.8" y="214.8" textLength="25.0" lengthAdjust="spacingAndGlyphs">pS634</tspan></text>
<path d="M111.8 124.3H153.2" stroke="#0d0d0d" stroke-width="1.9" fill="none"/><path d="M158.8 124.3L152.2 121.1L152.8 124.3L152.2 127.5Z" fill="#0d0d0d"/>
<path d="M241.2 121.2H260.1" stroke="#0d0d0d" stroke-width="1.9" fill="none"/><path d="M265.7 121.2L259.1 118.0L259.7 121.2L259.1 124.4Z" fill="#0d0d0d"/>
<path d="M358.0 117.6H377.9" stroke="#0d0d0d" stroke-width="1.9" fill="none"/><path d="M383.5 117.6L376.9 114.4L377.5 117.6L376.9 120.8Z" fill="#0d0d0d"/>
<path d="M468.0 176.8H503.1" stroke="#0d0d0d" stroke-width="1.9" fill="none"/><path d="M508.7 176.8L502.1 173.6L502.7 176.8L502.1 180.0Z" fill="#0d0d0d"/>
<text x="135.0" y="121.4" font-size="10.2" font-weight="bold" fill="#111" stroke="#111" stroke-width="0.25" text-anchor="middle" textLength="17.2" lengthAdjust="spacingAndGlyphs">EPS</text>
<text font-size="13" font-style="italic" fill="#262626" stroke="#262626" stroke-width="0.3"><tspan x="43.3" y="175.4" textLength="54.4" lengthAdjust="spacingAndGlyphs">Ralstonia</tspan> <tspan x="29.9" y="192.2" textLength="82.0" lengthAdjust="spacingAndGlyphs">solanacearum</tspan></text>
<text font-size="9" font-weight="bold" fill="#111" stroke="#111" stroke-width="0.25"><tspan x="530.0" y="176.6" textLength="58" lengthAdjust="spacingAndGlyphs">Resistance to</tspan> <tspan x="542.8" y="185.0" textLength="34" lengthAdjust="spacingAndGlyphs">bacteria</tspan></text>
<text x="139.0" y="333.7" font-size="9.3" font-weight="bold" fill="#2b4c8c" stroke="#2b4c8c" stroke-width="0.25" textLength="35.6" lengthAdjust="spacingAndGlyphs">SILYK13</text>
<text x="219.6" y="332.9" font-size="9.3" font-weight="bold" fill="#6e2a37" stroke="#6e2a37" stroke-width="0.25" textLength="29.8" lengthAdjust="spacingAndGlyphs">SILYK4</text>
<text x="300.4" y="245.0" font-size="9.3" font-weight="bold" fill="#6e2a37" stroke="#6e2a37" stroke-width="0.25" textLength="29.9" lengthAdjust="spacingAndGlyphs">SILYK4</text>
<text x="425.0" y="246.5" font-size="9.3" font-weight="bold" fill="#6e2a37" stroke="#6e2a37" stroke-width="0.25" textLength="30.4" lengthAdjust="spacingAndGlyphs">SILYK4</text>
<text x="343.2" y="334.9" font-size="9.3" font-weight="bold" fill="#877518" stroke="#877518" stroke-width="0.25" textLength="29.4" lengthAdjust="spacingAndGlyphs">SILYK1</text>
<text font-size="9.1" font-weight="bold" fill="#111" stroke="#111" stroke-width="0.3"><tspan x="187.7" y="364.4" font-size="9.4" stroke-width="0.2" font-family='"DejaVu Sans",sans-serif'>✦</tspan> <tspan x="196.6" y="364.2" textLength="25.6" lengthAdjust="spacingAndGlyphs">pS312</tspan></text>
<text font-size="9.1" font-weight="bold" fill="#111" stroke="#111" stroke-width="0.3"><tspan x="187.7" y="374.6" font-size="9.4" stroke-width="0.2" font-family='"DejaVu Sans",sans-serif'>✦</tspan> <tspan x="196.6" y="374.4" textLength="25.6" lengthAdjust="spacingAndGlyphs">pS328</tspan></text>
<text font-size="9.1" font-weight="bold" fill="#c3122f" stroke="#c3122f" stroke-width="0.3"><tspan x="300.9" y="363.2" font-size="9.4" stroke-width="0.2" font-family='"DejaVu Sans",sans-serif'>✦</tspan> <tspan x="309.8" y="363.0" textLength="26.0" lengthAdjust="spacingAndGlyphs">pS320</tspan></text>
<text font-size="9.1" font-weight="bold" fill="#4668b4" stroke="#4668b4" stroke-width="0.3"><tspan x="301.5" y="374.0" font-size="9.4" stroke-width="0.2" font-family='"DejaVu Sans",sans-serif'>✦</tspan> <tspan x="310.4" y="373.8" textLength="25.0" lengthAdjust="spacingAndGlyphs">pS334</tspan></text>
<text font-size="9.1" font-weight="bold" fill="#c3122f" stroke="#c3122f" stroke-width="0.3"><tspan x="419.1" y="363.2" font-size="9.4" stroke-width="0.2" font-family='"DejaVu Sans",sans-serif'>✦</tspan> <tspan x="428.0" y="363.0" textLength="27.0" lengthAdjust="spacingAndGlyphs">pS320</tspan></text>
<text font-size="9.1" font-weight="bold" fill="#4668b4" stroke="#4668b4" stroke-width="0.3"><tspan x="419.9" y="374.2" font-size="9.4" stroke-width="0.2" font-family='"DejaVu Sans",sans-serif'>✦</tspan> <tspan x="428.8" y="374.0" textLength="25.4" lengthAdjust="spacingAndGlyphs">pS334</tspan></text>
<path d="M112.8 276.1H151.7" stroke="#0d0d0d" stroke-width="1.9" fill="none"/><path d="M157.3 276.1L150.7 272.9L151.3 276.1L150.7 279.3Z" fill="#0d0d0d"/>
<path d="M240.6 277.0H260.3" stroke="#0d0d0d" stroke-width="1.9" fill="none"/><path d="M265.9 277.0L259.3 273.8L259.9 277.0L259.3 280.2Z" fill="#0d0d0d"/>
<path d="M358.0 277.0H378.1" stroke="#0d0d0d" stroke-width="1.9" fill="none"/><path d="M383.7 277.0L377.1 273.8L377.7 277.0L377.1 280.2Z" fill="#0d0d0d"/>
<path d="M468.0 338.6H502.9" stroke="#0d0d0d" stroke-width="1.9" fill="none"/><path d="M508.5 338.6L501.9 335.4L502.5 338.6L501.9 341.8Z" fill="#0d0d0d"/>
<text x="132.2" y="270.0" font-size="8.8" font-weight="bold" fill="#111" stroke="#111" stroke-width="0.25" text-anchor="middle">chitin</text>
<text font-size="13" font-style="italic" fill="#262626" stroke="#262626" stroke-width="0.3"><tspan x="48.3" y="328.5" textLength="54.6" lengthAdjust="spacingAndGlyphs">Fusarium</tspan> <tspan x="43.3" y="345.2" textLength="64.5" lengthAdjust="spacingAndGlyphs">oxysporum</tspan></text>
<text font-size="9" font-weight="bold" fill="#111" stroke="#111" stroke-width="0.25"><tspan x="526.3" y="338.2" textLength="57.6" lengthAdjust="spacingAndGlyphs">Resistance to</tspan> <tspan x="545.9" y="346.6" textLength="19.4" lengthAdjust="spacingAndGlyphs">fungi</tspan></text>
</g>
</svg>
</body>
</html>
